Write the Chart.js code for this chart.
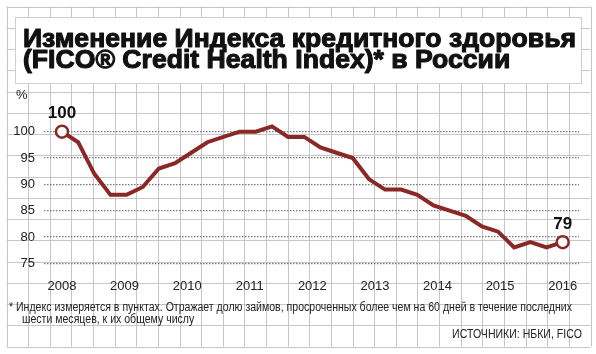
<!DOCTYPE html>
<html lang="ru">
<head>
<meta charset="utf-8">
<title>FICO Credit Health Index</title>
<script src="https://cdn.jsdelivr.net/npm/chart.js@4"></script>
<style>
  html, body { margin: 0; padding: 0; background: #fff; }
  canvas { display: block; }
</style>
</head>
<body>
<canvas id="chart" width="596" height="354"></canvas>
<script>
// datos (trimestres 2008-2015)
const years = ['2008', '2009', '2010', '2011', '2012', '2013', '2014', '2015', '2016'];
const healthIndex = [100, 98, 92, 88, 88, 89.5, 93, 94, 96, 98, 99, 100, 100, 101, 99, 99,
                     97, 96, 95, 91, 89, 89, 88, 86, 85, 84, 82, 81, 78, 79, 78, 79];
const yTicks = [75, 80, 85, 90, 95, 100];

const titleLines = ['Изменение Индекса кредитного здоровья', '(FICO® Credit Health Index)* в России'];
const noteLines = ['* Индекс измеряется в пунктах. Отражает долю займов, просроченных более чем на 60 дней в течение последних',
                   'шести месяцев, к их общему числу'];
const sourceText = 'ИСТОЧНИКИ: НБКИ, FICO';

const lineColor = '#8a2828';
const narrow = '"Liberation Sans Narrow", "Liberation Sans", sans-serif';

const last = healthIndex.length - 1;
const yearStep = last / (years.length - 1);

// fondo de papel cuadriculado + textos
const paperPlugin = {
  id: 'paper',
  beforeDraw(chart) {
    const ctx = chart.ctx;
    ctx.save();
    ctx.fillStyle = '#fff';
    ctx.fillRect(0, 0, chart.width, chart.height);

    ctx.strokeStyle = '#c6c6c6';
    ctx.lineWidth = 1;
    const left = 6.5, right = 590.5, top = 6.5, bottom = 346.5;
    const cols = 27, rows = 16;
    ctx.beginPath();
    for (let i = 0; i <= cols; i++) {
      const x = Math.round(left + i * (right - left) / cols) + 0.5;
      ctx.moveTo(x, top); ctx.lineTo(x, bottom);
    }
    for (let j = 0; j <= rows; j++) {
      const y = Math.round(top + j * (bottom - top) / rows) + 0.5;
      ctx.moveTo(left, y); ctx.lineTo(right, y);
    }
    ctx.stroke();

    // caja blanca del título
    ctx.fillStyle = '#fff';
    ctx.fillRect(15, 17, 566, 66);
    ctx.strokeStyle = '#cfcfcf';
    ctx.strokeRect(15.5, 17.5, 566, 66);

    // título (negrita extra con trazo)
    ctx.fillStyle = '#111';
    ctx.strokeStyle = '#111';
    ctx.lineWidth = 1.1;
    ctx.lineJoin = 'round';
    ctx.textBaseline = 'alphabetic';
    ctx.font = 'bold 26px ' + narrow;
    const k = 553 / ctx.measureText(titleLines[0]).width;
    [47, 68].forEach((base, i) => {
      ctx.save();
      ctx.translate(23, base);
      ctx.scale(k, 1);
      ctx.fillText(titleLines[i], 0, 0);
      ctx.strokeText(titleLines[i], 0, 0);
      ctx.restore();
    });

    // "%"
    ctx.font = '13px ' + narrow;
    ctx.fillStyle = '#222';
    ctx.textBaseline = 'middle';
    ctx.fillText('%', 16, 95);

    // nota al pie
    ctx.font = '12px ' + narrow;
    const kn = 563 / ctx.measureText(noteLines[0]).width;
    [[9, 308], [22, 320]].forEach(([x, y], i) => {
      ctx.save();
      ctx.translate(x, y);
      ctx.scale(kn, 1);
      ctx.fillText(noteLines[i], 0, 0);
      ctx.restore();
    });

    ctx.save();
    ctx.translate(582, 335);
    ctx.scale(kn, 1);
    ctx.textAlign = 'right';
    ctx.fillText(sourceText, 0, 0);
    ctx.restore();

    ctx.restore();
  }
};

// etiquetas del primer y último punto
const endLabels = {
  id: 'endLabels',
  afterDatasetsDraw(chart) {
    const ctx = chart.ctx;
    const pts = chart.getDatasetMeta(0).data;
    ctx.save();
    ctx.font = 'bold 17px "Liberation Sans", sans-serif';
    ctx.fillStyle = '#111';
    ctx.textAlign = 'center';
    ctx.textBaseline = 'middle';
    [0, last].forEach(i => {
      ctx.fillText(String(healthIndex[i]), pts[i].x, pts[i].y - 18);
    });
    ctx.restore();
  }
};

new Chart(document.getElementById('chart'), {
  type: 'line',
  data: {
    datasets: [{
      data: healthIndex.map((v, i) => ({ x: i, y: v })),
      borderColor: lineColor,
      borderWidth: 4,
      tension: 0,
      borderJoinStyle: 'miter',
      pointRadius: ctx => (ctx.dataIndex === 0 || ctx.dataIndex === last) ? 6 : 0,
      pointBackgroundColor: '#fff',
      pointBorderColor: lineColor,
      pointBorderWidth: 2.5,
      clip: false
    }]
  },
  options: {
    responsive: false,
    devicePixelRatio: 1,
    animation: false,
    layout: { padding: { top: 100.1, right: 17, left: 0, bottom: 0 } },
    plugins: { legend: { display: false }, tooltip: { enabled: false } },
    scales: {
      x: {
        type: 'linear',
        min: -1.114,
        max: 32.01,
        afterBuildTicks: scale => {
          scale.ticks = years.map((y, i) => ({ value: i * yearStep }));
        },
        afterFit: scale => { scale.height = 80.2; },
        grid: { display: false, drawTicks: false },
        border: { display: false },
        ticks: {
          padding: 5,
          maxRotation: 0,
          autoSkip: false,
          color: '#222',
          font: { family: narrow, size: 13 },
          callback: (v, i) => years[i]
        }
      },
      y: {
        min: 73,
        max: 106,
        afterBuildTicks: scale => {
          scale.ticks = yTicks.map(v => ({ value: v }));
        },
        afterFit: scale => { scale.width = 44; },
        grid: { color: '#7a7a7a', lineWidth: 1.3, drawTicks: false },
        border: { display: false, dash: [1.5, 1.5] },
        ticks: {
          padding: 9,
          color: '#222',
          font: { family: narrow, size: 13 }
        }
      }
    }
  },
  plugins: [paperPlugin, endLabels]
});
</script>
</body>
</html>
